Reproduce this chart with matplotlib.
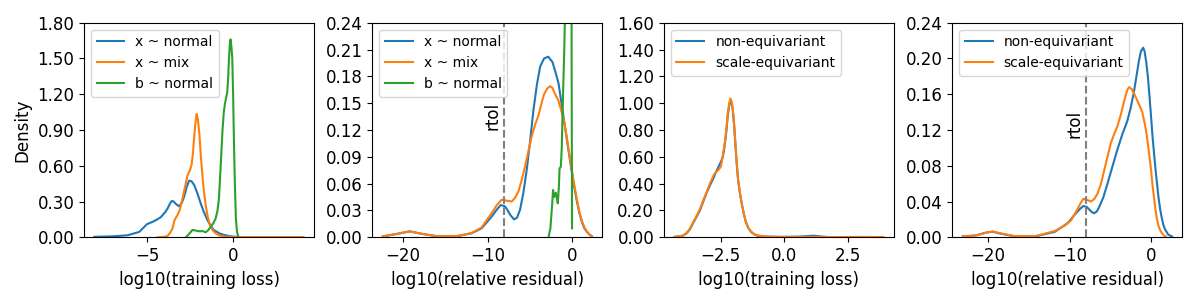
# Importing libraries
import numpy as np
import matplotlib.pyplot as plt

# Panel 1 - log10(training loss), three setups
p1_normal_x = [-8.04, -7.0, -6.12, -5.45, -5.0, -4.67, -4.4, -4.19, -3.95, -3.81, -3.66, -3.56, -3.45,
               -3.33, -3.14, -2.98, -2.85, -2.7, -2.56, -2.42, -2.27, -2.08, -1.89, -1.7, -1.5,
               -1.3, -1.12, -0.8, -0.54, -0.2, 0.23, 1.0]
p1_normal_y = [0.004, 0.008, 0.017, 0.045, 0.11, 0.13, 0.15, 0.17, 0.21, 0.24, 0.285, 0.305, 0.3,
               0.28, 0.26, 0.29, 0.34, 0.42, 0.475, 0.47, 0.44, 0.37, 0.285, 0.21, 0.145,
               0.095, 0.06, 0.033, 0.02, 0.009, 0.003, 0.0]
p1_mix_x = [-4.39, -4.1, -3.81, -3.65, -3.52, -3.4, -3.23, -3.1, -2.94, -2.8, -2.65, -2.52, -2.42,
            -2.34, -2.27, -2.2, -2.12, -2.05, -1.96, -1.88, -1.79, -1.7, -1.6, -1.48, -1.35,
            -1.2, -1.02, -0.8, -0.5, 0.0, 1.0, 2.0, 3.0, 4.07]
p1_mix_y = [0.0, 0.003, 0.01, 0.04, 0.075, 0.145, 0.187, 0.23, 0.327, 0.42, 0.52, 0.56, 0.606,
            0.7, 0.83, 0.95, 1.035, 0.99, 0.858, 0.68, 0.522, 0.38, 0.271, 0.17, 0.103,
            0.06, 0.033, 0.015, 0.005, 0.002, 0.002, 0.002, 0.002, 0.002]
p1_b_x = [-2.75, -2.55, -2.37, -2.2, -2.08, -1.93, -1.79, -1.6, -1.45, -1.31, -1.15, -1.02, -0.92,
          -0.83, -0.73, -0.63, -0.55, -0.48, -0.4, -0.35, -0.3, -0.25, -0.2, -0.16, -0.11,
          -0.06, -0.01, 0.03, 0.09, 0.15, 0.21, 0.27, 0.3]
p1_b_y = [0.0, 0.03, 0.061, 0.058, 0.053, 0.05, 0.053, 0.042, 0.06, 0.089, 0.12, 0.159, 0.22,
          0.327, 0.6, 0.886, 1.05, 1.124, 1.18, 1.22, 1.33, 1.5, 1.62, 1.66, 1.6,
          1.5, 1.2, 0.858, 0.45, 0.159, 0.05, 0.013, 0.0]

# Panel 2 - log10(relative residual), three setups
p2_normal_x = [-22.42, -20.63, -19.24, -17.86, -15.87, -13.49, -11.9, -10.71, -9.52, -8.9, -8.45,
               -8.0, -7.74, -7.3, -6.86, -6.5, -6.14, -5.75, -5.36, -4.96, -4.56, -4.16, -3.76,
               -3.3, -2.8, -2.3, -1.98, -1.58, -1.2, -0.79, -0.4, 0.0, 0.3, 0.6, 0.9, 1.19,
               1.49, 1.79, 2.1, 2.38]
p2_normal_y = [0.001, 0.004, 0.0067, 0.004, 0.001, 0.0015, 0.0045, 0.01, 0.023, 0.031, 0.036,
               0.035, 0.032, 0.025, 0.02, 0.022, 0.031, 0.05, 0.075, 0.107, 0.142, 0.17, 0.191,
               0.2, 0.202, 0.196, 0.186, 0.172, 0.148, 0.122, 0.097, 0.073, 0.055, 0.04, 0.027, 0.017,
               0.01, 0.006, 0.003, 0.001]
p2_mix_x = [-22.42, -20.63, -19.24, -17.86, -15.87, -13.49, -11.9, -10.71, -9.52, -8.9, -8.33,
            -7.74, -7.14, -6.75, -6.35, -5.95, -5.56, -5.16, -4.76, -4.36, -3.97, -3.6, -3.3,
            -2.95, -2.6, -2.3, -1.98, -1.6, -1.3, -0.95, -0.6, -0.3, 0.0, 0.3, 0.6, 0.9, 1.2,
            1.5, 1.8, 2.1, 2.38]
p2_mix_y = [0.001, 0.004, 0.0065, 0.004, 0.001, 0.0015, 0.0048, 0.011, 0.027, 0.036, 0.042,
            0.041, 0.04, 0.044, 0.051, 0.064, 0.079, 0.096, 0.113, 0.126, 0.136, 0.15, 0.16,
            0.166, 0.169, 0.167, 0.16, 0.153, 0.143, 0.131, 0.112, 0.093, 0.075, 0.058, 0.042, 0.028, 0.018,
            0.011, 0.006, 0.003, 0.001]
p2_b_x = [-2.77, -2.55, -2.35, -2.23, -2.1, -1.9, -1.78, -1.67, -1.55, -1.46, -1.31, -1.2,
          -1.11, -0.9, -0.79, -0.6, -0.35, -0.1, -0.03, 0.02]
p2_b_y = [0.0, 0.01, 0.035, 0.053, 0.045, 0.05, 0.044, 0.038, 0.055, 0.077, 0.079, 0.1,
          0.137, 0.211, 0.26, 0.8, 2.0, 0.8, 0.2, 0.01]

# Panel 3 - log10(training loss), equivariance comparison
p3_non_x = [-4.31, -4.18, -3.98, -3.83, -3.7, -3.58, -3.45, -3.31, -3.18, -3.05, -2.92, -2.78,
            -2.68, -2.58, -2.48, -2.41, -2.36, -2.31, -2.26, -2.22, -2.16, -2.11, -2.06, -2.02,
            -1.96, -1.91, -1.86, -1.81, -1.74, -1.67, -1.59, -1.51, -1.41, -1.31, -1.18, -1.05,
            -0.7, 0.0, 0.6, 0.9, 1.16, 1.4, 1.69]
p3_non_y = [0.003, 0.006, 0.012, 0.03, 0.06, 0.104, 0.15, 0.2, 0.265, 0.33, 0.385, 0.44,
            0.485, 0.526, 0.565, 0.6, 0.655, 0.725, 0.81, 0.9, 0.98, 1.015, 1.0, 0.95,
            0.82, 0.675, 0.54, 0.427, 0.33, 0.253, 0.18, 0.116, 0.07, 0.042, 0.022, 0.012,
            0.005, 0.003, 0.005, 0.009, 0.012, 0.007, 0.002]
p3_scale_x = [-4.31, -4.18, -3.98, -3.83, -3.7, -3.58, -3.45, -3.31, -3.18, -3.05, -2.92, -2.85,
              -2.75, -2.65, -2.55, -2.48, -2.41, -2.36, -2.31, -2.26, -2.22, -2.16, -2.11, -2.06,
              -2.02, -1.96, -1.91, -1.86, -1.81, -1.74, -1.67, -1.59, -1.51, -1.41, -1.31, -1.18,
              -1.05, -0.7, 0.0, 1.0, 2.0, 3.0, 3.9]
p3_scale_y = [0.002, 0.006, 0.012, 0.032, 0.065, 0.11, 0.155, 0.21, 0.275, 0.335, 0.4, 0.43,
              0.47, 0.49, 0.51, 0.53, 0.61, 0.67, 0.74, 0.83, 0.92, 1.0, 1.035, 1.01,
              0.96, 0.83, 0.68, 0.545, 0.43, 0.335, 0.255, 0.18, 0.118, 0.072, 0.045, 0.024,
              0.014, 0.005, 0.003, 0.003, 0.002, 0.003, 0.002]

# Panel 4 - log10(relative residual), equivariance comparison
p4_non_x = [-23.1, -21.54, -20.13, -19.4, -18.7, -16.7, -14.27, -11.84, -10.22, -9.21, -8.7,
            -8.31, -7.9, -7.58, -7.25, -6.97, -6.65, -6.36, -5.85, -5.35, -4.75, -4.14, -3.5,
            -2.92, -2.5, -2.1, -1.8, -1.5, -1.25, -0.97, -0.8, -0.6, -0.4, -0.2, 0.0, 0.2,
            0.4, 0.55, 0.75, 0.9, 1.1, 1.3, 1.5, 1.7, 2.1, 2.55]
p4_non_y = [0.001, 0.002, 0.0055, 0.0063, 0.0045, 0.001, 0.001, 0.006, 0.016, 0.027, 0.032,
            0.035, 0.034, 0.031, 0.028, 0.027, 0.029, 0.034, 0.045, 0.06, 0.079, 0.098, 0.116,
            0.13, 0.145, 0.163, 0.18, 0.197, 0.208, 0.212, 0.208, 0.196, 0.18, 0.158, 0.134, 0.11,
            0.09, 0.075, 0.058, 0.045, 0.032, 0.022, 0.014, 0.009, 0.003, 0.001]
p4_scale_x = [-23.1, -21.54, -20.13, -19.4, -18.7, -16.7, -14.27, -11.84, -10.6, -9.82, -9.0,
              -8.6, -8.31, -7.9, -7.38, -6.95, -6.57, -6.15, -5.75, -5.35, -4.95, -4.55, -4.14,
              -3.72, -3.32, -2.95, -2.71, -2.4, -2.1, -1.8, -1.4, -1.09, -0.8, -0.6, -0.4, -0.2,
              0.0, 0.15, 0.35, 0.5, 0.7, 0.9, 1.1, 1.3, 1.55, 1.8]
p4_scale_y = [0.001, 0.002, 0.0055, 0.0065, 0.005, 0.0012, 0.001, 0.007, 0.013, 0.019, 0.032,
              0.039, 0.043, 0.042, 0.04, 0.043, 0.049, 0.06, 0.075, 0.09, 0.105, 0.115, 0.124,
              0.137, 0.152, 0.164, 0.168, 0.166, 0.161, 0.155, 0.147, 0.14, 0.128, 0.118, 0.105, 0.09,
              0.075, 0.06, 0.045, 0.033, 0.021, 0.013, 0.008, 0.005, 0.002, 0.001]

rtol = -8
ylims = [1.8, 0.24, 1.6, 0.24]
ysteps = [0.3, 0.03, 0.2, 0.04]
xlabels = ['log10(training loss)', 'log10(relative residual)',
           'log10(training loss)', 'log10(relative residual)']

fig = plt.figure(figsize=(12, 3), dpi=100)
lefts = [0.07, 0.3103, 0.5533, 0.7936]
axes = [fig.add_axes([l, 0.209, 0.1917, 0.7153]) for l in lefts]

# Curves for each panel
axes[0].plot(p1_normal_x, p1_normal_y, label='x ~ normal')
axes[0].plot(p1_mix_x, p1_mix_y, label='x ~ mix')
axes[0].plot(p1_b_x, p1_b_y, label='b ~ normal')

axes[1].plot(p2_normal_x, p2_normal_y, label='x ~ normal')
axes[1].plot(p2_mix_x, p2_mix_y, label='x ~ mix')
axes[1].plot(p2_b_x, p2_b_y, label='b ~ normal')

axes[2].plot(p3_non_x, p3_non_y, label='non-equivariant')
axes[2].plot(p3_scale_x, p3_scale_y, label='scale-equivariant')

axes[3].plot(p4_non_x, p4_non_y, label='non-equivariant')
axes[3].plot(p4_scale_x, p4_scale_y, label='scale-equivariant')

# rtol marker on the residual panels
for ax, ty in [(axes[1], 0.12), (axes[3], 0.111)]:
    ax.axvline(rtol, color='gray', linestyle='--')
    ax.text(rtol - 0.3, ty, 'rtol', rotation=90, ha='right', va='bottom', fontsize=12)

for i, ax in enumerate(axes):
    ax.set_ylim(0, ylims[i])
    ax.set_yticks(np.arange(0, ylims[i] + 1e-9, ysteps[i]))
    ax.yaxis.set_major_formatter(plt.matplotlib.ticker.StrMethodFormatter('{x:.2f}'))
    ax.tick_params(labelsize=12)
    ax.set_xlabel(xlabels[i], fontsize=12)
    ax.legend(loc='upper left', fontsize=10)

axes[0].set_ylabel('Density', fontsize=12)

plt.savefig('out.png')
plt.close()
